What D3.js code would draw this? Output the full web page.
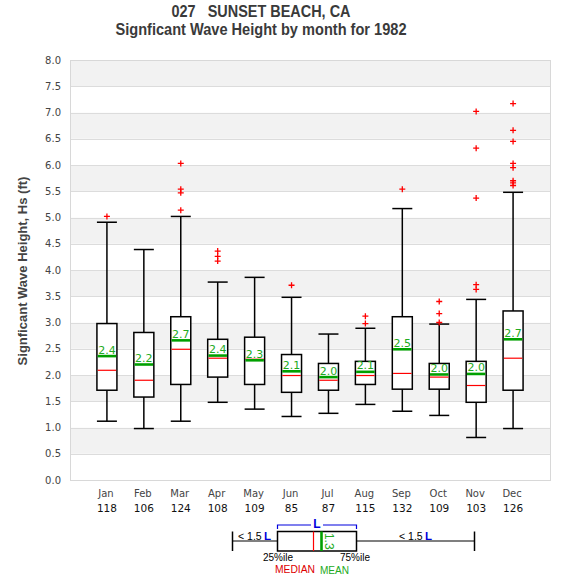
<!DOCTYPE html>
<html>
<head>
<meta charset="utf-8">
<script src="https://cdn.jsdelivr.net/npm/d3@7"></script>
<style>
  html, body { margin: 0; padding: 0; background: #fff; }
  svg { display: block; }
</style>
</head>
<body>
<svg id="chart" width="575" height="580"></svg>
<script>
// ---- Data ----
const months = ["Jan","Feb","Mar","Apr","May","Jun","Jul","Aug","Sep","Oct","Nov","Dec"];
const counts = [118,106,124,108,109,85,87,115,132,109,103,126];
const q1 =      [1.71,1.58,1.82,1.96,1.82,1.67,1.71,1.82,1.73,1.73,1.48,1.71];
const medians = [2.09,1.90,2.49,2.32,2.30,1.99,1.90,1.99,2.03,1.96,1.80,2.32];
const q3 =      [2.98,2.81,3.11,2.68,2.72,2.39,2.22,2.26,3.11,2.22,2.26,3.22];
const means =   [2.36,2.20,2.66,2.37,2.28,2.07,1.96,2.06,2.49,2.01,2.02,2.68];
const whiskLow =  [1.12,0.98,1.12,1.48,1.35,1.21,1.27,1.44,1.31,1.23,0.81,0.98];
const whiskHigh = [4.91,4.39,5.02,3.77,3.86,3.48,2.78,2.89,5.17,2.97,3.44,5.48];
const outliers = [
  [5.02],
  [],
  [5.14,5.47,5.54,6.03],
  [4.17,4.26,4.36],
  [],
  [3.71],
  [],
  [2.98,3.12],
  [5.54],
  [3.00,3.17,3.40],
  [3.63,3.72,5.37,6.32,7.02],
  [5.61,5.66,5.70,5.95,6.03,6.45,6.66,7.17]
];
const yTicks = d3.range(0, 8.01, 0.5);
const titleLine1 = "027   SUNSET BEACH, CA";
const titleLine2 = "Signficant Wave Height by month for 1982";
const yTitle = "Signficant Wave Height, Hs (ft)";

// ---- Layout ----
const svg = d3.select("#chart");
const plot = {left: 70, right: 550, top: 60, bottom: 480};
const x = d3.scaleLinear().domain([0, 13]).range([plot.left, plot.right]);
const y = d3.scaleLinear().domain([0, 8]).range([plot.bottom, plot.top]);
const boxW = 20;
const GREEN = "#00a000", GREENTXT = "#22aa22", RED = "#ff0000";

// background bands
const bands = d3.range(0, 16);
svg.append("g").selectAll("rect").data(bands).join("rect")
  .attr("x", plot.left).attr("width", plot.right - plot.left)
  .attr("y", d => y((d + 1) * 0.5)).attr("height", d => y(d * 0.5) - y((d + 1) * 0.5))
  .attr("fill", d => d % 2 === 1 ? "#f2f2f2" : "#ffffff");

// grid lines
svg.append("g").selectAll("line").data(yTicks).join("line")
  .attr("x1", plot.left).attr("x2", plot.right)
  .attr("y1", d => Math.round(y(d)) + 0.5).attr("y2", d => Math.round(y(d)) + 0.5)
  .attr("stroke", "#dcdcdc").attr("stroke-width", 1);

// frame
svg.append("rect").attr("x", plot.left + 0.5).attr("y", plot.top + 0.5)
  .attr("width", plot.right - plot.left).attr("height", plot.bottom - plot.top)
  .attr("fill", "none").attr("stroke", "#d8d8d8").attr("stroke-width", 1);

// y axis
const yAxis = d3.axisLeft(y).tickValues(yTicks).tickFormat(d3.format(".1f")).tickSize(0).tickPadding(9);
const ya = svg.append("g").attr("transform", `translate(${plot.left},0)`).call(yAxis);
ya.select(".domain").remove();
ya.selectAll("text").attr("font-family", "DejaVu Sans").attr("font-size", 10).attr("fill", "#444");

// x labels
const xg = svg.append("g");
xg.selectAll("text.m").data(months).join("text").attr("class", "m")
  .attr("x", (d, i) => x(i + 1) - 1).attr("y", 497)
  .attr("text-anchor", "middle").attr("font-family", "DejaVu Sans").attr("font-size", 10)
  .attr("fill", "#444").text(d => d);
xg.selectAll("text.c").data(counts).join("text").attr("class", "c")
  .attr("x", (d, i) => x(i + 1)).attr("y", 512)
  .attr("text-anchor", "middle").attr("font-family", "DejaVu Sans").attr("font-size", 10.5)
  .attr("fill", "#111").text(d => d);

// boxes
const boxes = svg.append("g").selectAll("g").data(months).join("g");
boxes.each(function(m, i) {
  const g = d3.select(this);
  const cx = x(i + 1);
  g.append("line").attr("x1", cx).attr("x2", cx).attr("y1", y(whiskHigh[i])).attr("y2", y(q3[i]))
    .attr("stroke", "#000").attr("stroke-width", 1.5);
  g.append("line").attr("x1", cx).attr("x2", cx).attr("y1", y(q1[i])).attr("y2", y(whiskLow[i]))
    .attr("stroke", "#000").attr("stroke-width", 1.5);
  g.append("line").attr("x1", cx - boxW / 2).attr("x2", cx + boxW / 2).attr("y1", y(whiskHigh[i])).attr("y2", y(whiskHigh[i]))
    .attr("stroke", "#000").attr("stroke-width", 1.5);
  g.append("line").attr("x1", cx - boxW / 2).attr("x2", cx + boxW / 2).attr("y1", y(whiskLow[i])).attr("y2", y(whiskLow[i]))
    .attr("stroke", "#000").attr("stroke-width", 1.5);
  g.append("rect").attr("x", cx - boxW / 2).attr("width", boxW)
    .attr("y", y(q3[i])).attr("height", y(q1[i]) - y(q3[i]))
    .attr("fill", "#fff").attr("stroke", "#000").attr("stroke-width", 1.5);
  g.append("line").attr("x1", cx - boxW / 2 + 0.75).attr("x2", cx + boxW / 2 - 0.75)
    .attr("y1", y(medians[i])).attr("y2", y(medians[i])).attr("stroke", RED).attr("stroke-width", 1.2);
  g.append("line").attr("x1", cx - boxW / 2 + 0.75).attr("x2", cx + boxW / 2 - 0.75)
    .attr("y1", y(means[i])).attr("y2", y(means[i])).attr("stroke", GREEN).attr("stroke-width", 2.6);
  g.append("text").attr("x", cx).attr("y", y(means[i]) - 2.6)
    .attr("text-anchor", "middle").attr("font-family", "DejaVu Sans").attr("font-size", 11)
    .attr("fill", GREENTXT).text(d3.format(".1f")(means[i]));
  g.selectAll("path.o").data(outliers[i]).join("path").attr("class", "o")
    .attr("d", v => `M${cx - 3},${y(v)}H${cx + 3}M${cx},${y(v) - 3}V${y(v) + 3}`)
    .attr("stroke", RED).attr("stroke-width", 1.3).attr("fill", "none");
});

// titles
svg.append("text").attr("x", 261).attr("y", 17).attr("text-anchor", "middle")
  .attr("font-family", "Liberation Sans, Arial, sans-serif").attr("font-weight", "bold").attr("font-size", 16)
  .attr("fill", "#3a3a3a").style("white-space", "pre")
  .attr("textLength", 179).attr("lengthAdjust", "spacingAndGlyphs").text(titleLine1);
svg.append("text").attr("x", 261).attr("y", 35).attr("text-anchor", "middle")
  .attr("font-family", "Liberation Sans, Arial, sans-serif").attr("font-weight", "bold").attr("font-size", 16)
  .attr("fill", "#3a3a3a")
  .attr("textLength", 291).attr("lengthAdjust", "spacingAndGlyphs").text(titleLine2);
svg.append("text").attr("transform", `translate(27,${(plot.top + plot.bottom) / 2 + 1}) rotate(-90)`)
  .attr("text-anchor", "middle")
  .attr("font-family", "Liberation Sans, Arial, sans-serif").attr("font-weight", "bold").attr("font-size", 13)
  .attr("fill", "#444").text(yTitle);

// ---- Legend ----
const lg = svg.append("g");
const L = {x0: 232.5, q1: 277.5, med: 313.5, mean: 321.5, q3: 356.5, x1: 474.5, top: 531.5, bot: 551, mid: 541};
const lfont = "Liberation Sans, Arial, sans-serif";
lg.append("line").attr("x1", L.x0).attr("x2", L.x1).attr("y1", L.mid).attr("y2", L.mid).attr("stroke", "#000").attr("stroke-width", 1.2);
lg.append("line").attr("x1", L.x0).attr("x2", L.x0).attr("y1", L.top).attr("y2", L.bot).attr("stroke", "#000").attr("stroke-width", 1.5);
lg.append("line").attr("x1", L.x1).attr("x2", L.x1).attr("y1", L.top).attr("y2", L.bot).attr("stroke", "#000").attr("stroke-width", 1.5);
lg.append("rect").attr("x", L.q1).attr("y", L.top).attr("width", L.q3 - L.q1).attr("height", L.bot - L.top)
  .attr("fill", "#fff").attr("stroke", "#000").attr("stroke-width", 1.5);
lg.append("line").attr("x1", L.med).attr("x2", L.med).attr("y1", L.top).attr("y2", L.bot).attr("stroke", RED).attr("stroke-width", 1.2);
lg.append("line").attr("x1", L.mean).attr("x2", L.mean).attr("y1", L.top).attr("y2", L.bot).attr("stroke", GREEN).attr("stroke-width", 2.6);
lg.append("text").attr("transform", `translate(325,${(L.top + L.bot) / 2}) rotate(90)`)
  .attr("text-anchor", "middle").attr("font-family", lfont).attr("font-size", 12).attr("fill", GREENTXT).text("1.3");
// bracket
lg.append("path").attr("d", `M${L.q1},529V525H${L.q3}V529`).attr("fill", "none").attr("stroke", "#0000dd").attr("stroke-width", 1.2);
lg.append("rect").attr("x", 311).attr("y", 519).attr("width", 12).attr("height", 8).attr("fill", "#fff");
lg.append("text").attr("x", 317).attr("y", 528).attr("text-anchor", "middle").attr("font-family", lfont)
  .attr("font-weight", "bold").attr("font-size", 12).attr("fill", "#0000dd").text("L");
function lessL(x0) {
  lg.append("text").attr("x", x0).attr("y", 539.5)
    .attr("font-family", lfont).attr("font-size", 10.5).attr("fill", "#000").text("< 1.5");
  lg.append("text").attr("x", x0 + 26).attr("y", 539.5)
    .attr("font-family", lfont).attr("font-size", 11.5).attr("font-weight", "bold").attr("fill", "#0000dd").text("L");
}
lessL(238); lessL(399);
function ltext(txt, cx, yy, w, col) {
  lg.append("text").attr("x", cx).attr("y", yy).attr("text-anchor", "middle").attr("font-family", lfont)
    .attr("font-size", 10.5).attr("fill", col)
    .attr("textLength", w).attr("lengthAdjust", "spacingAndGlyphs").text(txt);
}
ltext("25%ile", 278, 561, 30, "#000");
ltext("75%ile", 355, 561, 30, "#000");
ltext("MEDIAN", 295, 572.5, 40, "#dd0000");
ltext("MEAN", 334.5, 574, 29, GREENTXT);
</script>
</body>
</html>
